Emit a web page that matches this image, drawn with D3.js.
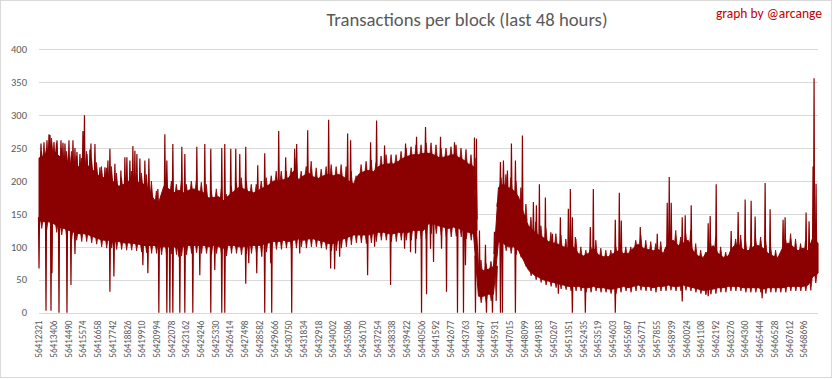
<!DOCTYPE html>
<html><head><meta charset="utf-8">
<script src="https://cdn.jsdelivr.net/npm/d3@7"></script>
<style>body{margin:0;background:#fff}svg{display:block}</style>
</head><body><svg id="c" width="833" height="379"></svg>
<script>
const chartTitle = "Transactions per block (last 48 hours)";
const credit = "graph by @arcange";
const xLabels = ["56412321","56413406","56414490","56415574","56416658","56417742","56418826","56419910","56420994","56422078","56423162","56424246","56425330","56426414","56427498","56428582","56429666","56430750","56431834","56432918","56434002","56435086","56436170","56437254","56438338","56439422","56440506","56441592","56442677","56443763","56444847","56445931","56447015","56448099","56449183","56450267","56451351","56452435","56453519","56454603","56455687","56456771","56457855","56458939","56460024","56461108","56462192","56463276","56464360","56465444","56466528","56467612","56468696"];
const yTicks = [0,50,100,150,200,250,300,350,400];
const firstBlock = 56412321;
const blockCount = 57405;
const sampleStep = 368;
// per sample of 368 blocks: highest value, dense-core top, dense-core bottom, lowest value
const upperPeak = [245,250,265,258,250,245,245,238,235,245,
235,228,222,220,222,212,205,210,215,212,
212,210,200,185,180,210,200,195,200,195,
200,200,198,195,185,188,188,180,192,198,
205,200,195,195,200,205,208,215,215,215,
220,235,215,222,230,220,218,222,225,222,
225,222,215,208,225,230,232,228,238,240,
240,240,245,250,252,255,255,258,258,255,
250,250,252,255,250,248,240,235,80,75,
78,80,205,210,205,200,190,165,145,138,
132,128,122,120,118,112,110,112,100,95,
100,110,98,95,95,100,105,100,100,110,
118,110,108,105,108,100,120,125,115,120,
125,105,95,92,105,115,100,92,95,112,
118,108,105,112,115,110,100,95,92,112,
120,112,105,110,105,130,120];
const upperCore = [235,238,248,245,238,232,230,225,222,228,
222,215,208,205,206,198,192,195,200,198,
198,195,188,172,168,192,188,182,186,182,
186,188,185,182,174,175,176,170,178,184,
190,188,184,182,186,190,194,200,200,202,
205,215,202,208,212,206,204,208,210,208,
210,206,200,196,210,214,216,214,222,225,
226,226,230,235,238,240,240,242,242,240,
236,236,238,240,236,232,226,222,68,64,
66,70,190,195,190,186,176,152,132,124,
118,114,108,106,104,100,98,100,90,86,
90,98,88,85,85,90,94,90,90,98,
104,98,96,94,96,90,106,110,102,106,
110,94,86,84,94,102,90,84,86,100,
104,96,94,100,102,98,90,86,84,100,
106,100,94,98,94,115,105];
const lowerCore = [140,138,138,135,130,128,125,122,120,120,
118,115,112,110,110,108,108,106,106,105,
104,102,102,102,100,100,100,100,98,100,
102,102,102,102,100,102,100,98,102,102,
100,100,102,102,102,104,106,108,108,110,
108,110,112,110,112,112,110,108,105,105,
110,112,115,118,118,118,118,120,122,122,
120,120,122,122,122,125,125,125,135,135,
132,130,128,130,128,125,122,120,25,25,
28,28,108,105,100,100,95,80,65,58,
54,50,48,46,44,42,40,40,40,38,
38,40,38,38,36,36,38,40,38,40,
42,40,40,38,40,40,42,40,40,42,
40,38,36,34,35,36,38,38,40,40,
40,38,38,38,38,36,38,38,38,38,
40,40,40,40,42,55,60];
const lowerDip = [128,126,125,122,118,115,112,110,108,108,
106,104,100,98,98,96,96,95,95,94,
92,91,90,90,88,88,89,88,86,88,
90,91,90,90,88,90,88,86,90,90,
88,89,90,91,90,92,94,96,96,98,
96,98,100,98,100,100,98,96,94,94,
98,100,103,106,106,105,106,108,110,110,
108,108,110,110,110,112,112,112,120,120,
118,116,115,116,115,112,110,108,15,16,
18,18,96,94,90,88,84,70,56,50,
46,42,40,38,36,35,33,33,33,31,
31,33,31,31,29,29,31,33,31,33,
34,33,33,31,33,33,34,33,33,34,
33,31,29,27,28,29,31,31,33,33,
33,31,31,31,31,29,31,31,31,31,
33,33,33,33,34,45,50];
// isolated spikes: sample index (fractional) and value
const spikeAt = [1.6,2.0,2.2,3.6,4.8,6.0,7.2,8.8,9.1,10.2,11.2,14.2,17.2,18.8,19.2,25.2,26.8,28.6,29.2,31.6,33.2,34.4,36.6,37.2,38.4,39.4,40.2,41.4,43.8,45.2,48.0,49.4,51.2,51.6,53.8,58.0,61.8,62.4,66.4,67.6,69.2,73.4,75.6,77.4,80.4,83.2,87.2,87.6,88.2,89.4,91.2,91.8,92.4,93.0,93.8,94.6,95.4,96.8,99.0,99.6,100.2,101.4,102.8,104.4,106.0,106.4,106.8,107.4,110.4,111.0,115.4,116.2,116.6,120.4,123.8,125.8,126.2,126.6,128.8,129.4,130.6,134.0,134.4,135.6,138.6,140.0,141.4,142.6,143.4,145.4,146.4,149.0,149.4,153.6,154.2,155.0,155.2,155.6,
0.4,1.0,3.0,4.4,5.2,6.8,7.6,8.2,9.6,10.4,12.2,13.2,13.8,15.2,16.4,17.6,18.2,19.6,20.2,21.2,22.0,23.8,24.6,25.6,
0.0,1.4,2.4,2.6,4.0,5.6,6.4,7.2,14.2,15.0,20.8,21.8,24.0,25.6,26.2,26.8,28.0,28.2,29.2,30.8,32.2,34.4,35.2,36.6,37.2,41.4,42.0,43.6,44.6,45.2,46.4,46.6,50.6,52.2,58.4,59.2,60.2,65.8,67.2,70.4,73.2,74.4,75.4,76.6,77.6,78.4,79.0,80.6,81.6,83.8,85.0,85.4,87.4,89.6,90.8,92.4,92.8,95.4,104.0,106.8,109.4,115.4,128.8,134.0,144.8];
const spikeVal = [262,271,270,262,258,262,250,276,300,248,256,249,236,253,246,271,256,252,241,252,256,249,250,256,249,249,241,252,224,242,276,236,249,256,277,293,272,262,259,292,254,257,267,282,267,259,266,264,125,103,123,168,229,231,216,257,231,269,168,163,195,175,120,145,158,188,145,115,130,188,141,182,140,130,120,167,206,167,145,148,163,136,147,195,124,153,172,170,146,197,157,141,145,152,139,222,356,196,
257,259,259,262,257,262,244,241,241,257,221,221,231,226,216,236,231,241,234,231,234,188,161,231,
67,3,3,60,0,0,42,89,32,55,72,60,0,0,0,0,85,0,0,0,57,0,65,0,0,44,75,60,85,0,75,0,0,90,67,66,85,57,100,42,97,92,90,0,28,97,77,97,32,0,0,72,0,0,0,0,0,0,29,0,0,0,17,25,22];

const W = 833, H = 379;
const svg = d3.select("#c");
const ink = "#8b0000", grid = "#d9d9d9", txt = "#595959";
const font = "Carlito, Calibri, Lato, 'Open Sans', sans-serif";

svg.append("rect").attr("x",0.5).attr("y",0.5).attr("width",W-2).attr("height",H-2)
  .attr("fill","#fff").attr("stroke",grid);

const x = d3.scaleLinear().domain([firstBlock-0.5, firstBlock+blockCount-0.5]).range([39, 818]);
const y = d3.scaleLinear().domain([0,400]).range([312.7, 49.3]);

svg.append("g").selectAll("line").data(yTicks).join("line")
  .attr("x1", x.range()[0]).attr("x2", x.range()[1])
  .attr("y1", d=>Math.round(y(d))+0.5).attr("y2", d=>Math.round(y(d))+0.5)
  .attr("stroke", grid).attr("stroke-width",1);

svg.append("g").selectAll("text").data(yTicks).join("text")
  .attr("x", 27).attr("y", d=>y(d)).attr("dy","0.35em")
  .attr("text-anchor","end").attr("fill",txt)
  .style("font-family",font).style("font-size","10.5px").text(d=>d);

svg.append("g").selectAll("text").data(xLabels).join("text")
  .attr("transform", d=>`translate(${x(+d)},320.5) rotate(-90)`)
  .attr("dy","0.35em").attr("text-anchor","end").attr("fill",txt)
  .style("font-family",font).style("font-size","9.2px").text(d=>d);

const bx = t => x(firstBlock + t*sampleStep);
const samples = upperCore.map((u,k)=>({t:k, hi:u, lo:lowerCore[k]}));
const area = d3.area().x(d=>bx(d.t)).y0(d=>y(d.lo)).y1(d=>y(d.hi));
svg.append("path").datum(samples).attr("d",area)
  .attr("fill",ink).attr("stroke",ink).attr("stroke-width",1).attr("stroke-linejoin","round");

// fringe: per-sample peak above the core and dip below it
let fr = "";
for (let k=0;k<upperCore.length-1;k++){
  const cHi = (upperCore[k]+upperCore[k+1])/2, cLo = (lowerCore[k]+lowerCore[k+1])/2;
  if (upperPeak[k] > cHi) fr += `M${bx(k+0.25)},${y(cHi-3)}L${bx(k+0.5)},${y(upperPeak[k])}L${bx(k+0.75)},${y(cHi-3)}Z`;
  if (lowerDip[k] < cLo) fr += `M${bx(k+0.3)},${y(cLo+3)}L${bx(k+0.55)},${y(lowerDip[k])}L${bx(k+0.8)},${y(cLo+3)}Z`;
}
svg.append("path").attr("d",fr).attr("fill",ink).attr("stroke",ink).attr("stroke-width",0.8);

const interp = (arr, t) => {
  const i = Math.max(0, Math.min(arr.length-2, Math.floor(t)));
  const f = Math.max(0, Math.min(1, t - i));
  return arr[i]*(1-f) + arr[i+1]*f;
};
let sp = "";
spikeAt.forEach((t,i)=>{
  const v = spikeVal[i];
  const hiV = interp(upperCore,t), loV = interp(lowerCore,t);
  let base;
  if (v > hiV) base = hiV - 5; else if (v < loV) base = loV + 5; else return;
  sp += `M${bx(t)-0.5},${y(base)}L${bx(t)},${y(v)}L${bx(t)+0.5},${y(base)}`;
});
svg.append("path").attr("d",sp).attr("fill",ink).attr("stroke",ink).attr("stroke-width",1.2);

svg.append("line").attr("x1",x.range()[0]).attr("x2",x.range()[1])
  .attr("y1",Math.round(y(0))+0.5).attr("y2",Math.round(y(0))+0.5).attr("stroke",grid);

const t = svg.append("text").attr("x",467).attr("y",26).attr("text-anchor","middle")
  .attr("fill",txt).style("font-family",font).style("font-size","18.67px").text(chartTitle);
const tl = t.node().getComputedTextLength();
t.style("font-size", (18.67*281/tl).toFixed(2)+"px");

const c = svg.append("text").attr("x",716).attr("y",17.5).attr("text-anchor","start")
  .attr("fill","#c00000").style("font-family",font).style("font-size","13.33px").text(credit);
const cl = c.node().getComputedTextLength();
c.style("font-size", (13.33*106/cl).toFixed(2)+"px");
</script></body></html>
